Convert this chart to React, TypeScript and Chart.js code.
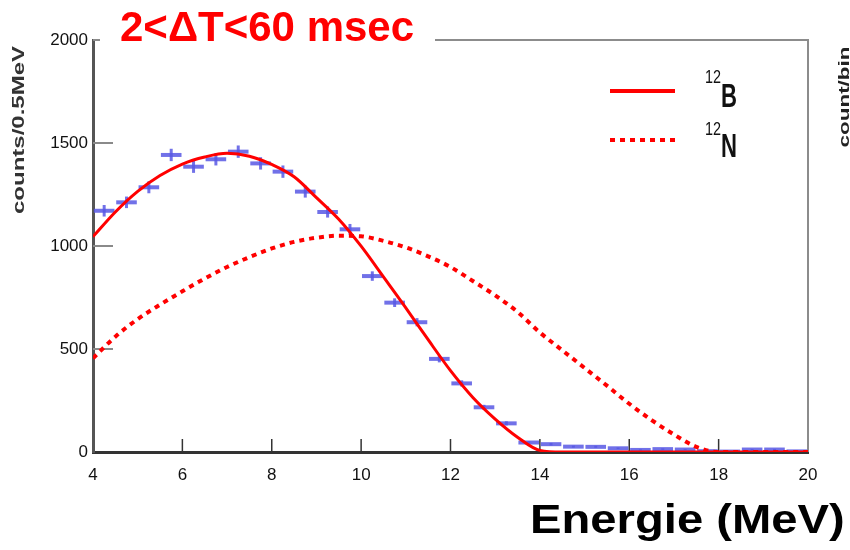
import React, { useEffect, useRef } from 'react';
import { Chart, registerables } from 'chart.js';

Chart.register(...registerables);

// ---- data ----
const binCenters = [
  4.25, 4.75, 5.25, 5.75, 6.25, 6.75, 7.25, 7.75, 8.25, 8.75, 9.25, 9.75,
  10.25, 10.75, 11.25, 11.75, 12.25, 12.75, 13.25, 13.75, 14.25, 14.75, 15.25, 15.75,
  16.25, 16.75, 17.25, 17.75, 18.25, 18.75, 19.25, 19.75,
];
const counts = [
  1171, 1212, 1285, 1442, 1385, 1421, 1458, 1401, 1361, 1264, 1165, 1081,
  854, 725, 630, 452, 333, 217, 139, 46, 38, 26, 25, 18,
  10, 14, 12, 4, 2, 12, 12, 3,
];
const countErrors = [
  28, 28, 29, 30, 30, 30, 30, 30, 30, 29, 27, 26,
  23, 21, 20, 17, 15, 12, 10, 6, 6, 5, 5, 4,
  3, 4, 3, 2, 1, 3, 3, 2,
];
const fitEnergies = [
  4, 4.5, 5, 5.5, 6, 6.5, 7, 7.5, 8, 8.5, 9, 9.5, 10, 10.5, 11, 11.5, 12,
  12.5, 13, 13.5, 14, 14.5, 15, 15.5, 16, 16.5, 17, 17.5, 18, 18.5, 19, 19.5, 20,
];
const boronFit = [
  1045, 1165, 1265, 1342, 1398, 1432, 1450, 1436, 1396, 1336, 1235, 1130, 999,
  850, 700, 545, 395, 265, 160, 72, 8, 0, 0, 0, 0, 0, 0, 0, 0, 0, 0, 0, 0,
];
const nitrogenFit = [
  455, 560, 645, 715, 780, 842, 898, 946, 988, 1020, 1040, 1050, 1047,
  1025, 993, 950, 898, 830, 760, 680, 580, 494, 408, 322, 234, 155, 85, 25, 0, 0, 0, 0, 0,
];
const xTickValues = [4, 6, 8, 10, 12, 14, 16, 18, 20];
const yTickValues = [0, 500, 1000, 1500, 2000];

const titleText = '2<ΔT<60 msec';
const yTitleText = 'counts/0.5MeV';
const rightTitleText = 'count/bin';
const xTitleText = 'Energie (MeV)';

const WIDE = '"Liberation Sans", Arial, sans-serif';
const RED = '#ff0000';
const BLUE = 'rgba(88,88,228,0.85)';

const decorPlugin = {
  id: 'decor',
  beforeDatasetsDraw(chart: any) {
    const { ctx, chartArea: a, scales } = chart;
    const xs = scales.x;
    const ys = scales.y;
    ctx.save();
    ctx.strokeStyle = '#8c8c8c';
    ctx.lineWidth = 2;
    ctx.beginPath();
    ctx.moveTo(a.left, a.top);
    ctx.lineTo(a.right, a.top);
    ctx.lineTo(a.right, a.bottom);
    ctx.stroke();
    ctx.strokeStyle = '#8a8a8a';
    ctx.lineWidth = 2;
    for (const t of ys.ticks) {
      if (t.value === ys.min) continue;
      const py = ys.getPixelForValue(t.value);
      ctx.beginPath();
      ctx.moveTo(a.left, py);
      ctx.lineTo(a.left + 20, py);
      ctx.stroke();
    }
    ctx.strokeStyle = '#333';
    ctx.lineWidth = 1.5;
    for (const t of xs.ticks) {
      if (t.value === xs.min || t.value === xs.max) continue;
      const px = xs.getPixelForValue(t.value);
      ctx.beginPath();
      ctx.moveTo(px, a.bottom);
      ctx.lineTo(px, a.bottom - 13);
      ctx.stroke();
    }
    ctx.restore();
  },
  afterDatasetDraw(chart: any, args: any) {
    if (args.index !== 0) return;
    const { ctx, scales } = chart;
    const xs = scales.x;
    const ys = scales.y;
    ctx.save();
    ctx.strokeStyle = BLUE;
    ctx.lineWidth = 3;
    binCenters.forEach((c, i) => {
      const px = xs.getPixelForValue(c);
      ctx.beginPath();
      ctx.moveTo(px, ys.getPixelForValue(counts[i] - countErrors[i]));
      ctx.lineTo(px, ys.getPixelForValue(counts[i] + countErrors[i]));
      ctx.stroke();
    });
    ctx.restore();
  },
  afterDraw(chart: any) {
    const { ctx } = chart;
    ctx.save();
    ctx.fillStyle = '#ffffff';
    ctx.fillRect(100, 0, 335, 47);
    ctx.fillStyle = RED;
    ctx.font = `bold 42px ${WIDE}`;
    ctx.textBaseline = 'alphabetic';
    ctx.textAlign = 'left';
    ctx.fillText(titleText, 120, 41);

    // legend
    ctx.strokeStyle = RED;
    ctx.lineWidth = 4;
    ctx.beginPath();
    ctx.moveTo(610, 91);
    ctx.lineTo(675, 91);
    ctx.stroke();
    ctx.setLineDash([5, 5]);
    ctx.beginPath();
    ctx.moveTo(610, 140);
    ctx.lineTo(675, 140);
    ctx.stroke();
    ctx.setLineDash([]);
    ctx.fillStyle = '#111';
    const drawNarrow = (txt: string, x: number, y: number, font: string, sx: number) => {
      ctx.save();
      ctx.translate(x, y);
      ctx.scale(sx, 1);
      ctx.font = font;
      ctx.fillText(txt, 0, 0);
      ctx.restore();
    };
    drawNarrow('12', 705, 83, `18px ${WIDE}`, 0.8);
    drawNarrow('12', 705, 135, `18px ${WIDE}`, 0.8);
    drawNarrow('B', 721, 107, `bold 34px ${WIDE}`, 0.65);
    drawNarrow('N', 721, 157, `bold 34px ${WIDE}`, 0.65);

    // left axis title
    ctx.save();
    ctx.translate(24, 130);
    ctx.rotate(-Math.PI / 2);
    ctx.scale(1.5, 1);
    ctx.font = `bold 16px ${WIDE}`;
    ctx.textAlign = 'center';
    ctx.fillStyle = '#333';
    ctx.fillText(yTitleText, 0, 0);
    ctx.restore();

    // right axis title
    ctx.save();
    ctx.translate(849, 97);
    ctx.rotate(-Math.PI / 2);
    ctx.scale(1.5, 1);
    ctx.font = `bold 15px ${WIDE}`;
    ctx.textAlign = 'center';
    ctx.fillStyle = '#222';
    ctx.fillText(rightTitleText, 0, 0);
    ctx.restore();

    // x axis title
    ctx.save();
    ctx.translate(530, 533);
    ctx.scale(1.18, 1);
    ctx.font = `bold 40px ${WIDE}`;
    ctx.fillStyle = '#000';
    ctx.textAlign = 'left';
    ctx.fillText(xTitleText, 0, 0);
    ctx.restore();

    ctx.restore();
  },
};

export default function App() {
  const ref = useRef<HTMLCanvasElement>(null);
  useEffect(() => {
    if (!ref.current) return;
    const chart = new Chart(ref.current, {
      type: 'scatter',
      data: {
        datasets: [
          {
            label: 'data',
            data: binCenters.map((x, i) => ({ x, y: counts[i] })),
            showLine: false,
            pointStyle: 'line',
            pointRadius: 10.3,
            pointBorderWidth: 4,
            pointBorderColor: BLUE,
            pointBackgroundColor: BLUE,
            order: 10,
          },
          {
            label: '12B',
            data: fitEnergies.map((x, i) => ({ x, y: boronFit[i] })),
            showLine: true,
            borderColor: RED,
            borderWidth: 3,
            pointRadius: 0,
            cubicInterpolationMode: 'monotone',
            order: 1,
          },
          {
            label: '12N',
            data: fitEnergies.map((x, i) => ({ x, y: nitrogenFit[i] })),
            showLine: true,
            borderColor: RED,
            borderWidth: 4,
            borderDash: [5, 5],
            pointRadius: 0,
            cubicInterpolationMode: 'monotone',
            order: 2,
          },
        ],
      },
      options: {
        animation: false,
        responsive: false,
        devicePixelRatio: 1,
        layout: { padding: { left: 33, right: 42, top: 40, bottom: 58 } },
        plugins: { legend: { display: false }, tooltip: { enabled: false }, title: { display: false } },
        scales: {
          x: {
            type: 'linear',
            min: 4,
            max: 20,
            afterBuildTicks: (s: any) => {
              s.ticks = xTickValues.map((v) => ({ value: v }));
            },
            afterFit: (s: any) => {
              s.height = 40;
            },
            grid: { display: false, drawTicks: false },
            border: { display: true, color: '#333', width: 3 },
            ticks: {
              padding: 13,
              color: '#111',
              font: { family: WIDE, size: 17 },
              maxRotation: 0,
              callback: (v: any) => String(v),
            },
          },
          y: {
            type: 'linear',
            min: 0,
            max: 2000,
            afterBuildTicks: (s: any) => {
              s.ticks = yTickValues.map((v) => ({ value: v }));
            },
            afterFit: (s: any) => {
              s.width = 60;
            },
            grid: { display: false, drawTicks: false },
            border: { display: true, color: '#555', width: 3 },
            ticks: {
              padding: 5,
              color: '#111',
              font: { family: WIDE, size: 17 },
              callback: (v: any) => String(v),
            },
          },
        },
      },
      plugins: [decorPlugin],
    } as any);
    return () => chart.destroy();
  }, []);
  return (
    <div style={{ position: 'absolute', left: 0, top: 0, width: 850, height: 550, background: '#fff' }}>
      <canvas ref={ref} width={850} height={550} style={{ filter: 'blur(0.4px)' }} />
    </div>
  );
}
